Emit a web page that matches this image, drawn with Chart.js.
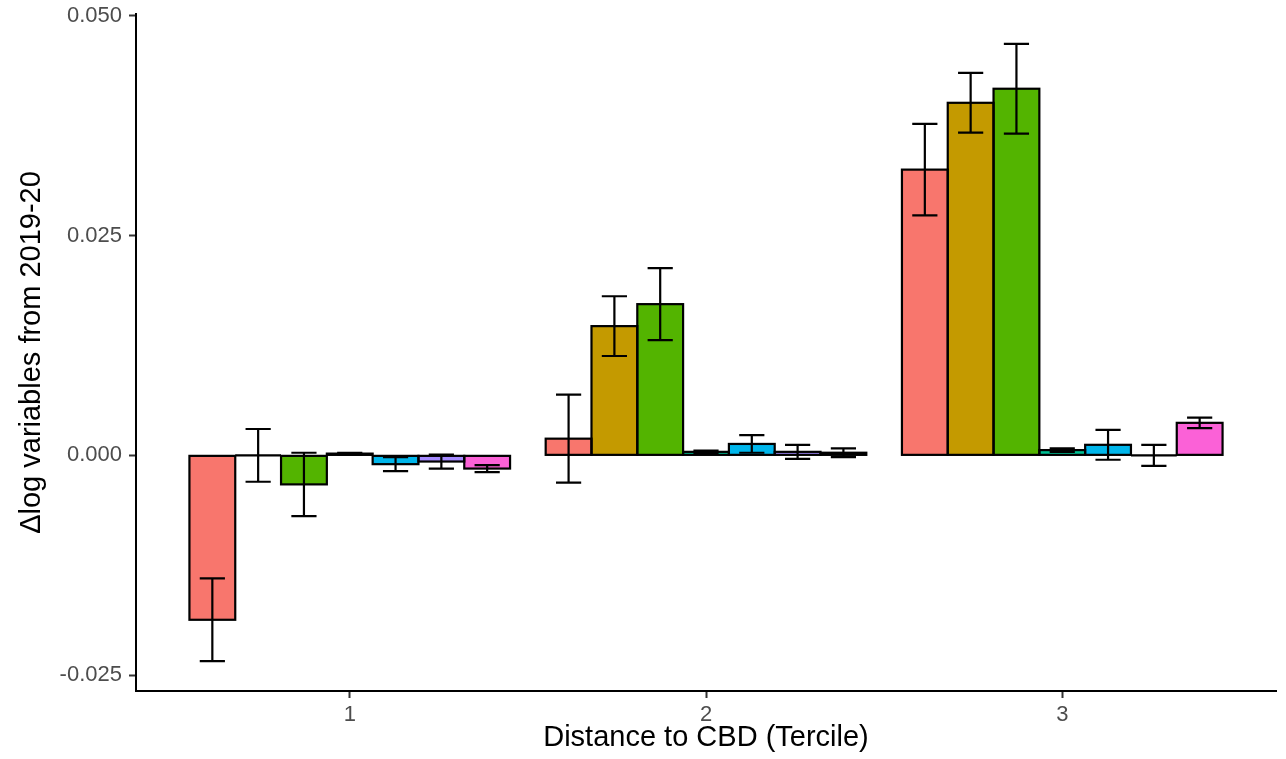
<!DOCTYPE html>
<html>
<head>
<meta charset="utf-8">
<script src="https://cdn.jsdelivr.net/npm/chart.js@4/dist/chart.umd.min.js"></script>
<style>
  html, body { margin: 0; padding: 0; background: #ffffff; }
  #wrap { width: 1286px; height: 759px; position: relative; }
</style>
</head>
<body>
<div id="wrap"><canvas id="c"></canvas></div>
<script>
// ---- data ----
const categories = [1, 2, 3];
const yTicks = [-0.025, 0, 0.025, 0.05];

const seriesNames = ['s1', 's2', 's3', 's4', 's5', 's6', 's7'];
const seriesColors = ['#F8766D', '#C49A00', '#53B400', '#00C094', '#00B6EB', '#A58AFF', '#FB61D7'];

const s1Values = [-0.0187, 0.0019, 0.0325];
const s1Errors = [0.0047, 0.0050, 0.0052];
const s2Values = [0.0000, 0.0147, 0.0401];
const s2Errors = [0.0030, 0.0034, 0.0034];
const s3Values = [-0.0033, 0.0172, 0.0417];
const s3Errors = [0.0036, 0.0041, 0.0051];
const s4Values = [0.0002, 0.0004, 0.0006];
const s4Errors = [0.0001, 0.00015, 0.0002];
const s5Values = [-0.0010, 0.0013, 0.0012];
const s5Errors = [0.0008, 0.0010, 0.0017];
const s6Values = [-0.0007, 0.0004, 0.0000];
const s6Errors = [0.0008, 0.0008, 0.0012];
const s7Values = [-0.0015, 0.0003, 0.0037];
const s7Errors = [0.0004, 0.0005, 0.0006];

const allValues = [s1Values, s2Values, s3Values, s4Values, s5Values, s6Values, s7Values];
const allErrors = [s1Errors, s2Errors, s3Errors, s4Errors, s5Errors, s6Errors, s7Errors];

const FONT = '"Liberation Sans", Arial, Helvetica, sans-serif';

const datasets = allValues.map((vals, i) => ({
  label: seriesNames[i],
  data: categories.map((c, j) => ({ x: c, y: vals[j] })),
  errors: allErrors[i],
  backgroundColor: seriesColors[i],
  borderWidth: 0,
  inflateAmount: 0,
  categoryPercentage: 0.9,
  barPercentage: 1.0
}));

// outlines and error bars drawn from the library's own elements/scales
const outlineAndErrors = {
  id: 'outlineAndErrors',
  afterDatasetsDraw(chart) {
    const ctx = chart.ctx;
    const yScale = chart.scales.y;
    ctx.save();
    ctx.strokeStyle = '#000000';
    ctx.lineWidth = 2.2;
    chart.data.datasets.forEach((ds, di) => {
      const meta = chart.getDatasetMeta(di);
      meta.data.forEach((bar) => {
        const p = bar.getProps(['x', 'y', 'base', 'width'], true);
        const top = Math.min(p.y, p.base);
        const h = Math.abs(p.base - p.y);
        ctx.strokeRect(p.x - p.width / 2, top, p.width, h);
      });
    });
    chart.data.datasets.forEach((ds, di) => {
      const meta = chart.getDatasetMeta(di);
      meta.data.forEach((bar, j) => {
        const p = bar.getProps(['x', 'width'], true);
        const v = ds.data[j].y;
        const e = ds.errors[j];
        const yHi = yScale.getPixelForValue(v + e);
        const yLo = yScale.getPixelForValue(v - e);
        const cap = p.width * 0.55;
        ctx.beginPath();
        ctx.moveTo(p.x, yHi); ctx.lineTo(p.x, yLo);
        ctx.moveTo(p.x - cap / 2, yHi); ctx.lineTo(p.x + cap / 2, yHi);
        ctx.moveTo(p.x - cap / 2, yLo); ctx.lineTo(p.x + cap / 2, yLo);
        ctx.stroke();
      });
    });
    ctx.restore();
  }
};

new Chart(document.getElementById('c'), {
  type: 'bar',
  data: { datasets },
  plugins: [outlineAndErrors],
  options: {
    responsive: true,
    maintainAspectRatio: false,
    animation: false,
    layout: { padding: { top: 14, right: 10, left: 0, bottom: 0 } },
    plugins: { legend: { display: false }, tooltip: { enabled: false } },
    scales: {
      x: {
        type: 'linear',
        min: 0.4,
        max: 3.6,
        offset: false,
        grid: { offset: false, drawOnChartArea: false, drawTicks: true, tickLength: 7, tickColor: '#333333', tickWidth: 2 },
        border: { display: true, color: '#000000', width: 2 },
        afterBuildTicks(scale) { scale.ticks = categories.map(v => ({ value: v })); },
        ticks: {
          padding: 4,
          color: '#4D4D4D',
          font: { family: FONT, size: 22 },
          maxRotation: 0,
          callback: (v) => String(v)
        },
        title: {
          display: true,
          text: 'Distance to CBD (Tercile)',
          color: '#000000',
          font: { family: FONT, size: 29 },
          padding: { top: 0, bottom: 4 }
        },
        afterFit(scale) { scale.height = 68; scale.paddingLeft = 0; scale.paddingRight = 0; }
      },
      y: {
        type: 'linear',
        min: -0.0268,
        max: 0.0502,
        grid: { drawOnChartArea: false, drawTicks: true, tickLength: 7, tickColor: '#333333', tickWidth: 2 },
        border: { display: true, color: '#000000', width: 2 },
        afterBuildTicks(scale) { scale.ticks = yTicks.map(v => ({ value: v })); },
        ticks: {
          padding: 7,
          color: '#4D4D4D',
          font: { family: FONT, size: 22 },
          callback: (v) => Number(v).toFixed(3)
        },
        title: {
          display: true,
          text: 'Δlog variables from 2019-20',
          color: '#000000',
          font: { family: FONT, size: 29 },
          padding: { top: 15, bottom: 0 }
        },
        afterFit(scale) { scale.width = 136; scale.paddingTop = 0; scale.paddingBottom = 0; }
      }
    }
  }
});
</script>
</body>
</html>
